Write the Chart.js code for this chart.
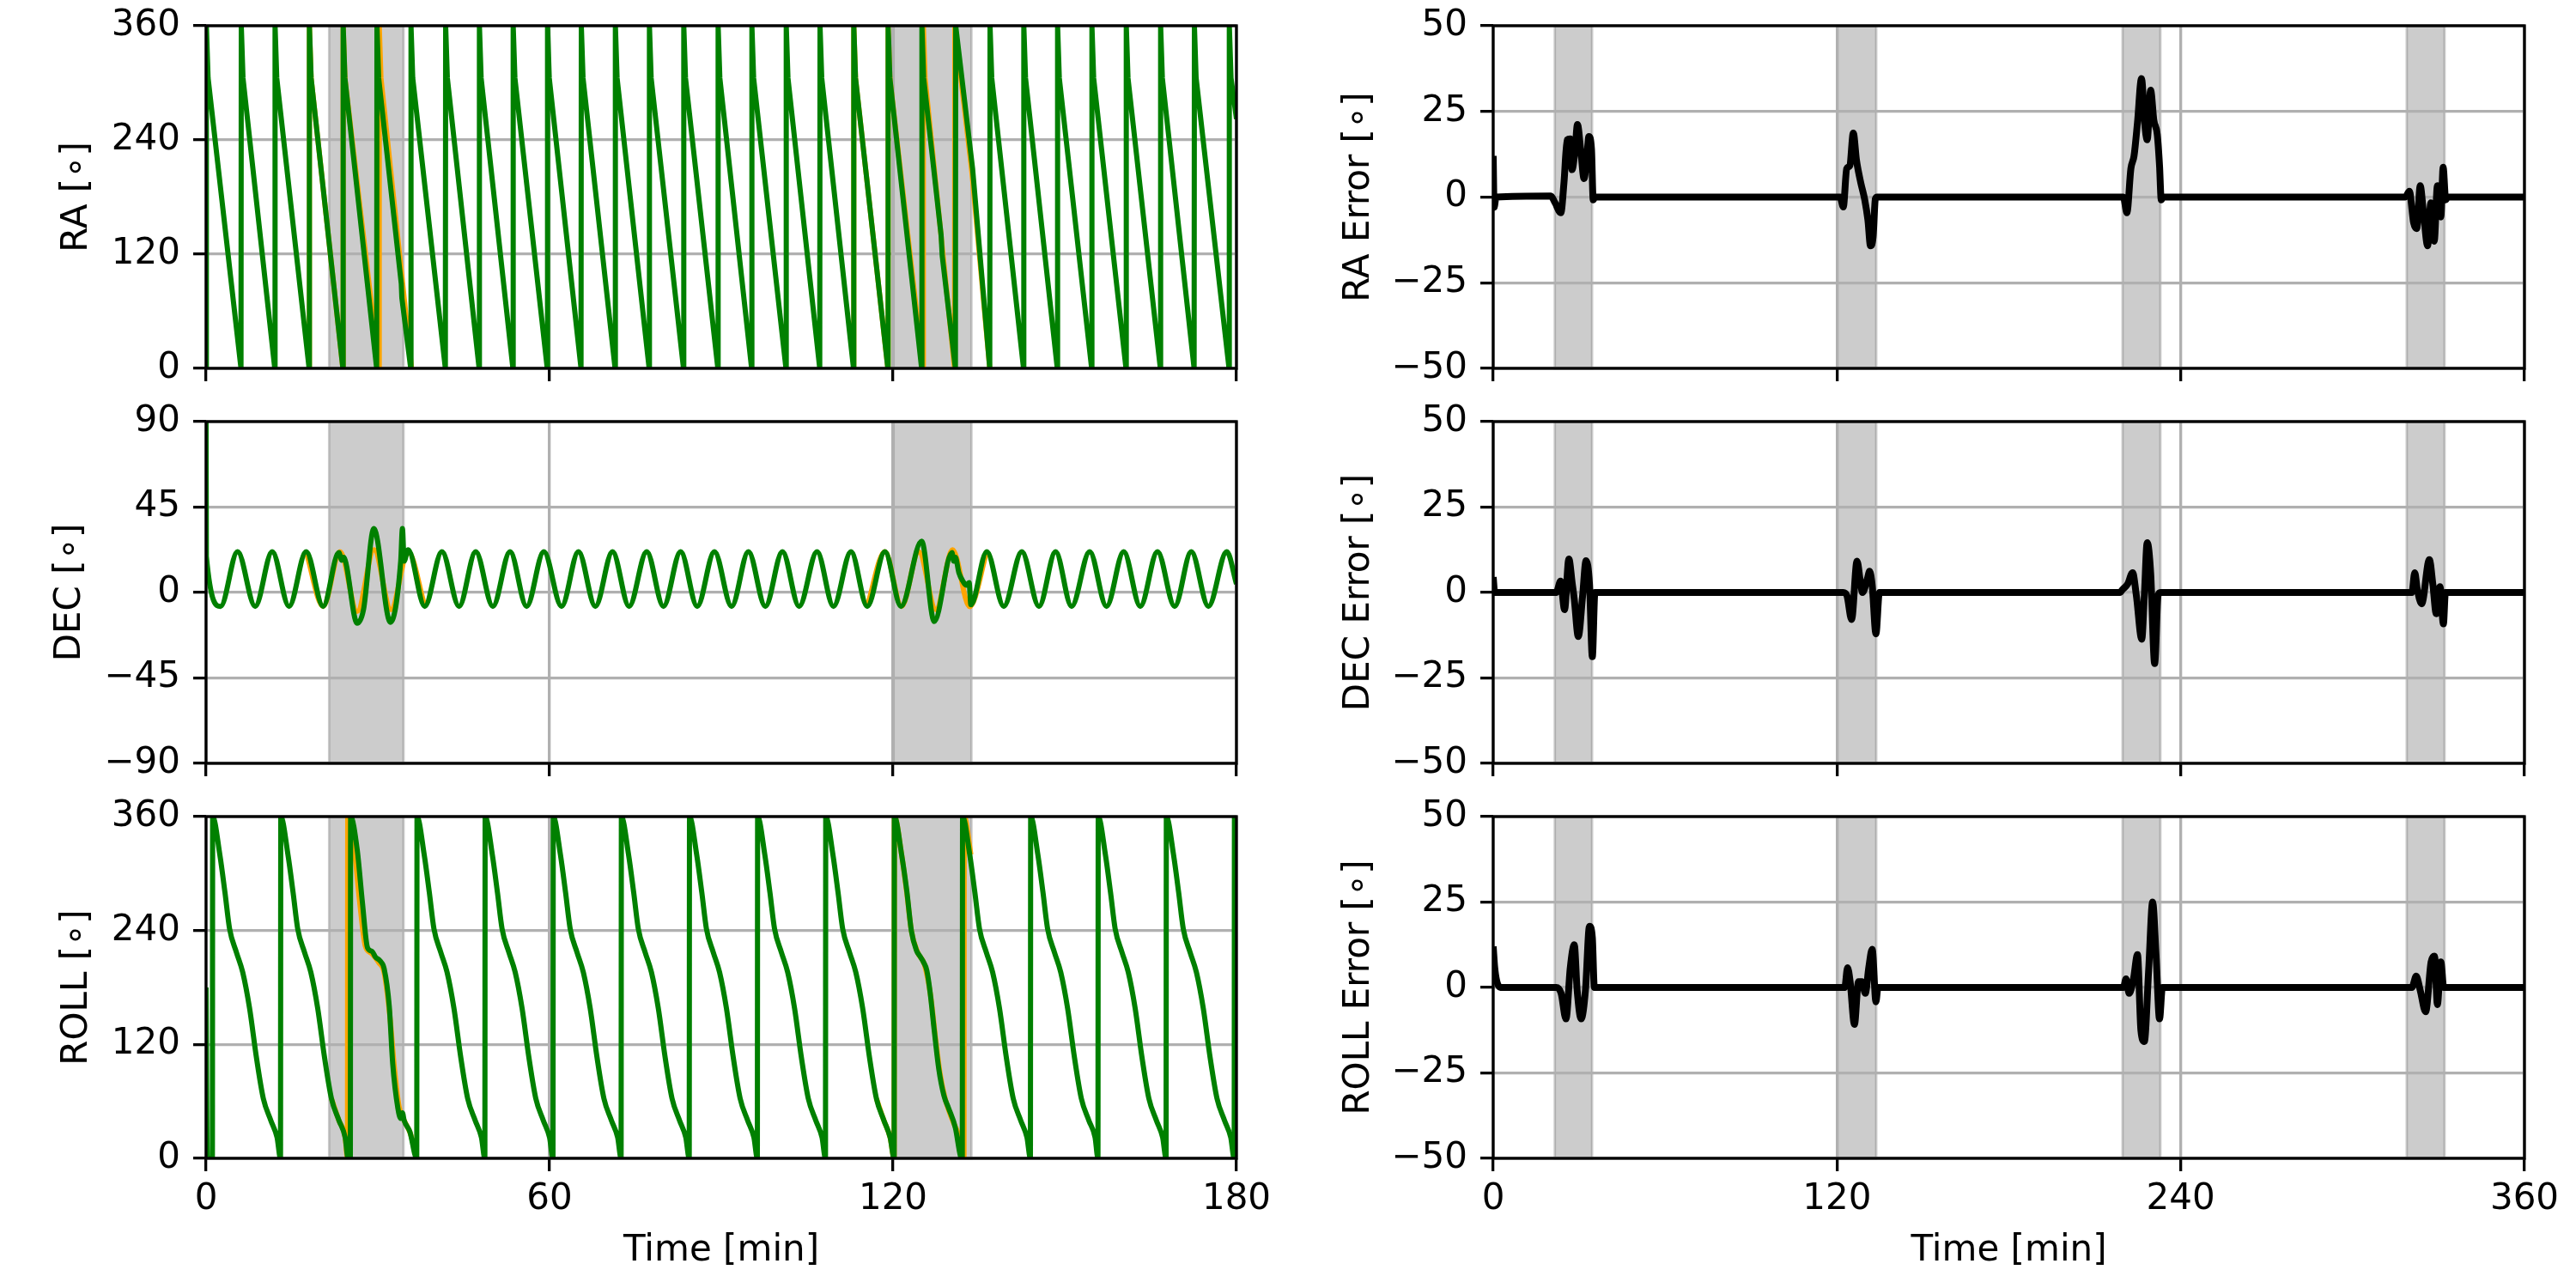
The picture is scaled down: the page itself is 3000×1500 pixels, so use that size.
<!DOCTYPE html>
<html>
<head>
<meta charset="utf-8">
<title>Attitude tracking</title>
<script src="https://cdn.jsdelivr.net/npm/chart.js@4.4.1/dist/chart.umd.min.js"></script>
<style>
  html, body { margin: 0; padding: 0; background: #fff; }
  #fig { position: relative; width: 3000px; height: 1500px; background: #fff; overflow: hidden; }
  #fig canvas { position: absolute; }
</style>
</head>
<body>
<div id="fig">
  <canvas id="raChart" width="1500" height="459" style="left:0;top:0"></canvas>
  <canvas id="decChart" width="1500" height="458" style="left:0;top:461px"></canvas>
  <canvas id="rollChart" width="1500" height="579" style="left:0;top:921px"></canvas>
  <canvas id="raErrChart" width="1500" height="459" style="left:1500px;top:0"></canvas>
  <canvas id="decErrChart" width="1500" height="458" style="left:1500px;top:461px"></canvas>
  <canvas id="rollErrChart" width="1500" height="579" style="left:1500px;top:921px"></canvas>
</div>
<script>
// shaded manoeuvre windows [start, end] in minutes
var spans = [[21.5, 34.5], [120.1, 133.7], [219.7, 232.9], [318.9, 332.1]];

var timeTicksLeft = [0, 60, 120, 180];
var timeTicksRight = [0, 120, 240, 360];
var angleTicks = [0, 120, 240, 360];
var decTicks = [-90, -45, 0, 45, 90];
var errTicks = [-50, -25, 0, 25, 50];

var raActual = [
  [0, 0], [0.05, 360], [0.35, 305],
  [6.1, 0], [6.15, 360], [6.45, 305],
  [12.0, 0], [12.05, 360], [12.35, 305],
  [18.0, 0], [18.05, 360], [18.35, 305],
  [23.9, 0], [23.95, 360], [24.25, 305],
  [29.8, 0], [29.85, 360], [30.15, 305], [34.1, 89], [34.2, 74],
  [35.75, 0], [35.8, 360], [36.1, 305],
  [41.8, 0], [41.85, 360], [42.15, 305],
  [47.7, 0], [47.75, 360], [48.05, 305],
  [53.6, 0], [53.65, 360], [53.95, 305],
  [59.6, 0], [59.65, 360], [59.95, 305],
  [65.5, 0], [65.55, 360], [65.85, 305],
  [71.45, 0], [71.5, 360], [71.8, 305],
  [77.4, 0], [77.45, 360], [77.75, 305],
  [83.4, 0], [83.45, 360], [83.75, 305],
  [89.4, 0], [89.45, 360], [89.75, 305],
  [95.3, 0], [95.35, 360], [95.65, 305],
  [101.3, 0], [101.35, 360], [101.65, 305],
  [107.2, 0], [107.25, 360], [107.55, 305],
  [113.1, 0], [113.15, 360], [113.45, 305],
  [119.1, 0], [119.15, 360], [119.45, 305],
  [125.0, 0], [125.05, 360], [125.35, 305], [128.4, 140], [128.6, 118],
  [130.9, 0], [130.95, 360], [133.9, 210],
  [136.9, 0], [136.95, 360], [137.25, 305],
  [142.8, 0], [142.85, 360], [143.15, 305],
  [148.7, 0], [148.75, 360], [149.05, 305],
  [154.7, 0], [154.75, 360], [155.05, 305],
  [160.7, 0], [160.75, 360], [161.05, 305],
  [166.7, 0], [166.75, 360], [167.05, 305],
  [172.6, 0], [172.65, 360], [172.95, 305],
  [178.7, 0], [178.75, 360], [179.05, 305], [180, 262]
];
// orange = reference, only visible where it parts from the green
var raRef1 = [[18.0, 0], [18.05, 360], [18.35, 305], [23.9, 0], [23.95, 360], [24.25, 305], [30.2, 0], [30.25, 360], [30.55, 305], [35.9, 0]];
var raRef2 = [[113.1, 0], [113.15, 360], [113.45, 305], [119.1, 0], [119.15, 360], [119.45, 305], [125.25, 0], [125.3, 360], [125.6, 305], [130.75, 0], [130.8, 360], [133.8, 205], [136.9, 0]];

var decActual = [
  [0, 90], [0.05, 19], [2.53, -7.3], [5.5, 21.5], [8.58, -7.3], [11.55, 21.5], [14.5, -7.3], [17.48, 21.5], [20.45, -7.3],
  [23.2, 21], [23.7, 17], [24.0, 18.5], [26.4, -16.2], [27.5, -9], [29.3, 33.7], [32.2, -15.7], [34.0, 16.5], [34.3, 33.7], [34.6, 16.5], [35.3, 22.5],
  [38.2, -7.3], [41.2, 21.5], [44.2, -7.3], [47.1, 21.5], [50.1, -7.3], [53.1, 21.5], [56.0, -7.3], [59.0, 21.5],
  [62.1, -7.3], [65.05, 21.5], [68.0, -7.3], [71.0, 21.5], [73.9, -7.3], [76.97, 21.5], [79.9, -7.3], [82.9, 21.5],
  [85.8, -7.3], [88.8, 21.5], [91.8, -7.3], [94.74, 21.5], [97.7, -7.3], [100.68, 21.5], [103.6, -7.3], [106.73, 21.5],
  [109.6, -7.3], [112.66, 21.5], [115.5, -7.3], [118.59, 21.5], [121.4, -7.3],
  [125.0, 27], [127.2, -15.3], [130.3, 21], [130.6, 16.5], [130.9, 18.5], [131.5, 10.5], [132.2, 6], [132.8, 3.8], [133.3, 5.2], [133.6, -6.5],
  [136.38, 21.5], [139.35, -7.3], [142.5, 21.5], [145.5, -7.3], [148.4, 21.5], [151.2, -7.3], [154.35, 21.5], [157.3, -7.3],
  [160.3, 21.5], [163.2, -7.3], [166.2, 21.5], [169.2, -7.3], [172.1, 21.5], [175.1, -7.3], [178.3, 21.5], [180, 4.5]
];
var decRef1 = [[17.48, 21.5], [20.45, -7.3], [23.4, 21.5], [26.4, -10], [29.35, 22.5], [32.3, -9], [35.3, 21.5], [38.2, -7.3]];
var decRef2 = [[115.5, -7.3], [118.59, 21.5], [121.5, -7.3], [124.5, 21.5], [127.5, -9], [130.4, 22.5], [133.4, -7.5], [136.38, 21.5]];

var rollActual = [
  [0, 180], [0.2, 0], [1.1, 0],
  [1.15, 360], [2.4, 320], [3.3, 280], [4.1, 242], [5.3, 217], [6.4, 196], [7.6, 158], [8.8, 106], [10.0, 63], [11.3, 40], [12.4, 22],
  [13.0, 0], [13.05, 360], [14.3, 320], [15.2, 280], [16.0, 242], [17.2, 217], [18.3, 196], [19.5, 158], [20.7, 106], [21.9, 63], [23.2, 40], [24.3, 22],
  [24.8, 0], [25.2, 0], [25.25, 360], [26.4, 325], [27.3, 270], [28.2, 222], [29.0, 218], [29.6, 212], [30.4, 208], [31.1, 200], [32.0, 160], [32.6, 100], [33.5, 53], [34.0, 42], [34.3, 48], [34.6, 40], [35.6, 28],
  [36.8, 0], [36.85, 360], [38.1, 320], [39.0, 280], [39.8, 242], [41.0, 217], [42.1, 196], [43.3, 158], [44.5, 106], [45.7, 63], [47.0, 40], [48.1, 22],
  [48.7, 0], [48.75, 360], [50.0, 320], [50.9, 280], [51.7, 242], [52.9, 217], [54.0, 196], [55.2, 158], [56.4, 106], [57.6, 63], [58.9, 40], [60.0, 22],
  [60.6, 0], [60.65, 360], [61.9, 320], [62.8, 280], [63.6, 242], [64.8, 217], [65.9, 196], [67.1, 158], [68.3, 106], [69.5, 63], [70.8, 40], [71.9, 22],
  [72.5, 0], [72.55, 360], [73.8, 320], [74.7, 280], [75.5, 242], [76.7, 217], [77.8, 196], [79.0, 158], [80.2, 106], [81.4, 63], [82.7, 40], [83.8, 22],
  [84.4, 0], [84.45, 360], [85.7, 320], [86.6, 280], [87.4, 242], [88.6, 217], [89.7, 196], [90.9, 158], [92.1, 106], [93.3, 63], [94.6, 40], [95.7, 22],
  [96.3, 0], [96.35, 360], [97.6, 320], [98.5, 280], [99.3, 242], [100.5, 217], [101.6, 196], [102.8, 158], [104.0, 106], [105.2, 63], [106.5, 40], [107.6, 22],
  [108.2, 0], [108.25, 360], [109.5, 320], [110.4, 280], [111.2, 242], [112.4, 217], [113.5, 196], [114.7, 158], [115.9, 106], [117.1, 63], [118.4, 40], [119.5, 22],
  [120.2, 0], [120.25, 360], [121.5, 320], [122.4, 282], [123.2, 240], [124.1, 219], [124.7, 213], [125.3, 207], [125.9, 198], [126.5, 174], [127.2, 135], [128.0, 94], [128.9, 66], [129.7, 53], [130.9, 32], [131.8, 2],
  [132.1, 0], [132.15, 360], [133.4, 320], [134.3, 280], [135.1, 242], [136.3, 217], [137.4, 196], [138.6, 158], [139.8, 106], [141.0, 63], [142.3, 40], [143.4, 22],
  [144.0, 0], [144.05, 360], [145.3, 320], [146.2, 280], [147.0, 242], [148.2, 217], [149.3, 196], [150.5, 158], [151.7, 106], [152.9, 63], [154.2, 40], [155.3, 22],
  [155.8, 0], [155.85, 360], [157.1, 320], [158.0, 280], [158.8, 242], [160.0, 217], [161.1, 196], [162.3, 158], [163.5, 106], [164.7, 63], [166.0, 40], [167.1, 22],
  [167.7, 0], [167.75, 360], [169.0, 320], [169.9, 280], [170.7, 242], [171.9, 217], [173.0, 196], [174.2, 158], [175.4, 106], [176.6, 63], [177.9, 40], [179.0, 22],
  [179.6, 0], [179.65, 360], [180, 348]
];
var rollRef1 = [[21.9, 63], [23.2, 40], [24.3, 22], [24.7, 0], [24.75, 360], [25.9, 325], [26.8, 272], [27.8, 224], [28.9, 216], [30.2, 206], [31.1, 196], [32.1, 150], [32.9, 95], [33.7, 55], [34.6, 40], [35.7, 26], [36.8, 0]];
var rollRef2 = [[117.1, 63], [118.4, 40], [119.5, 22], [120.2, 0], [120.25, 360], [121.5, 320], [122.4, 280], [123.2, 240], [124.3, 217], [125.5, 204], [126.6, 170], [127.4, 128], [128.2, 90], [129.1, 63], [130.4, 40], [131.5, 24], [132.4, 0], [132.45, 360], [133.6, 320]];

// [time, error deg]
var raErr = [
  [0, 12], [0.3, -3], [1.0, 0],
  [20.1, 0.3], [21.6, -1.7], [23.6, -4.6], [24.7, 4.2], [25.8, 16.7], [26.9, 17], [27.5, 8], [28.6, 14], [29.4, 21.2], [30.6, 13.3], [31.7, 5.4], [32.6, 10.8], [33.4, 17.7], [34.3, 14], [34.9, -0.8], [35.5, 0],
  [121.1, 0], [122.2, -2.9], [123.4, 8.3], [124.5, 9.2], [125.7, 18.7], [126.8, 10.8], [128.3, 4.2], [129.7, -0.8], [130.8, -6.7], [131.7, -14.2], [132.6, -11.7], [133.4, -0.5], [134.0, 0],
  [220.0, 0], [221.2, -4.6], [222.6, 8.3], [223.7, 12], [224.9, 21.7], [226.3, 34.6], [227.5, 20.8], [228.3, 16.7], [229.5, 31.2], [230.6, 22.5], [231.8, 18.3], [232.6, 9.2], [233.2, -0.8], [233.8, 0],
  [318.4, 0], [319.8, 1.7], [321.3, -7.5], [322.4, -9.2], [323.6, 3.3], [324.7, -4.2], [326.2, -14.2], [327.3, -1.7], [328.5, -12.9], [329.6, 3.3], [330.8, -5.8], [331.6, 8.7], [332.5, -0.8], [333.2, 0],
  [360, 0]
];
var decErr = [
  [0, 4.5], [0.5, 0],
  [22.0, 0], [23.5, 3.3], [24.9, -5], [26.4, 9.8], [27.6, 2.5], [28.3, -2], [29.7, -12.9], [31.2, -1], [32.4, 9.3], [33.6, 2.5], [34.6, -18.8], [35.5, 0],
  [122.2, 0], [123.5, -1], [125.1, -7.9], [127.0, 9.2], [128.2, 3], [128.9, 0], [130.6, 4], [131.4, 6.2], [132.3, 2], [133.6, -12.1], [134.8, 0],
  [218.8, 0], [219.6, 0.8], [221.5, 2.5], [223.2, 5.8], [224.5, -0.8], [226.4, -13.7], [227.3, -0.8], [228.3, 14.6], [229.5, 5.8], [230.9, -20.8], [232.1, -0.8], [232.9, 0],
  [320.7, 0], [321.7, 5.8], [322.6, 0.8], [324.1, -3.3], [326.8, 9.6], [328.0, 2.5], [329.2, -6.2], [330.5, 1.7], [331.7, -9.2], [332.4, 0],
  [360, 0]
];
var rollErr = [
  [0, 12], [0.5, 6], [1.2, 2], [2.5, 0],
  [22.0, 0], [23.7, -1.7], [25.4, -9.2], [26.9, 5.8], [28.3, 12.5], [29.3, -0.8], [30.7, -9.2], [32.2, -0.8], [33.6, 17.9], [34.6, 14.6], [35.3, 0],
  [122.7, 0], [123.7, 5.8], [124.6, 1.7], [126.1, -10.8], [127.5, 1.7], [128.7, 1.7], [129.9, -1.7], [131.1, 5.8], [132.3, 11.2], [133.6, -4.2], [134.3, 0],
  [220.0, 0], [220.9, 2.5], [222.0, -1.7], [223.5, 2.5], [224.9, 9.6], [226.1, -12.5], [227.3, -15.8], [228.8, 5], [230.2, 25], [231.4, 9.2], [232.6, -9.2], [233.6, 0],
  [320.7, 0], [322.2, 3.3], [323.6, -0.8], [325.5, -7.1], [327.4, 7.5], [328.6, 9.2], [329.6, -5], [330.8, 7.5], [331.8, 0],
  [360, 0]
];

var GREEN = '#008000';
var ORANGE = '#ffa500';
var tickFont = { family: '"DejaVu Sans", sans-serif', size: 42 };

function fmtTick(v) {
  return String(v).replace('-', '\u2212');
}

function series(points, color, width, smooth) {
  return {
    data: points.map(function (p) { return { x: p[0], y: p[1] }; }),
    borderColor: color,
    borderWidth: width,
    borderJoinStyle: 'round',
    pointRadius: 0,
    fill: false,
    clip: 0,
    tension: 0,
    cubicInterpolationMode: smooth ? 'monotone' : 'default'
  };
}

// grey windows sit under the grid, like axvspan in matplotlib
var spanPlugin = {
  id: 'spans',
  beforeDraw: function (chart) {
    var ctx = chart.ctx, a = chart.chartArea, xs = chart.scales.x;
    ctx.save();
    ctx.fillStyle = 'rgba(128,128,128,0.4)';
    ctx.strokeStyle = 'rgba(128,128,128,0.4)';
    ctx.lineWidth = 2.8;
    spans.forEach(function (s) {
      if (s[0] >= xs.max) return;
      var x0 = xs.getPixelForValue(s[0]);
      var x1 = xs.getPixelForValue(Math.min(s[1], xs.max));
      ctx.fillRect(x0, a.top, x1 - x0, a.bottom - a.top);
      ctx.strokeRect(x0, a.top, x1 - x0, a.bottom - a.top);
    });
    ctx.restore();
  }
};

var framePlugin = {
  id: 'frame',
  afterDatasetsDraw: function (chart) {
    var ctx = chart.ctx, a = chart.chartArea;
    ctx.save();
    ctx.strokeStyle = '#000';
    ctx.lineWidth = 3.3;
    ctx.strokeRect(a.left, a.top, a.right - a.left, a.bottom - a.top);
    ctx.restore();
  }
};

function gridOpts() {
  return { color: '#b0b0b0', lineWidth: 3.3, tickColor: '#000', tickWidth: 3.3, tickLength: 15, drawTicks: true };
}

function panel(id, cfg) {
  return new Chart(document.getElementById(id), {
    type: 'line',
    data: { datasets: cfg.datasets },
    options: {
      responsive: false,
      devicePixelRatio: 1,
      animation: false,
      events: [],
      layout: { autoPadding: false, padding: { top: 30, right: 60, bottom: 0, left: 0 } },
      plugins: { legend: { display: false }, tooltip: { enabled: false } },
      scales: {
        x: {
          type: 'linear',
          min: 0,
          max: cfg.xTicks[cfg.xTicks.length - 1],
          afterBuildTicks: function (s) { s.ticks = cfg.xTicks.map(function (v) { return { value: v }; }); },
          afterFit: function (s) {
            s.height = cfg.bottom ? 151 : 30;
            s.paddingLeft = 0; s.paddingRight = 0;
          },
          grid: gridOpts(),
          border: { display: false },
          ticks: { display: cfg.bottom, color: '#000', font: tickFont, padding: 8, maxRotation: 0, autoSkip: false, callback: fmtTick },
          title: { display: cfg.bottom, text: 'Time [min]', color: '#000', font: tickFont, padding: { top: 0, bottom: 18 } }
        },
        y: {
          type: 'linear',
          min: cfg.yTicks[0],
          max: cfg.yTicks[cfg.yTicks.length - 1],
          afterBuildTicks: function (s) { s.ticks = cfg.yTicks.map(function (v) { return { value: v }; }); },
          afterFit: function (s) {
            s.width = cfg.yWidth;
            s.paddingTop = 0; s.paddingBottom = 0;
          },
          grid: gridOpts(),
          border: { display: false },
          ticks: { color: '#000', font: tickFont, padding: 15, autoSkip: false, callback: fmtTick },
          title: { display: true, text: cfg.yLabel, color: '#000', font: tickFont, padding: { top: cfg.labelPad, bottom: 0 } }
        }
      }
    },
    plugins: [spanPlugin, framePlugin]
  });
}

panel('raChart', {
  datasets: [series(raActual, GREEN, 6, false), series(raRef1, ORANGE, 6, false), series(raRef2, ORANGE, 6, false)],
  xTicks: timeTicksLeft, yTicks: angleTicks, yLabel: 'RA [\u2218]', labelPad: 65, yWidth: 240, bottom: false
});
panel('decChart', {
  datasets: [series(decActual, GREEN, 6, true), series(decRef1, ORANGE, 6, true), series(decRef2, ORANGE, 6, true)],
  xTicks: timeTicksLeft, yTicks: decTicks, yLabel: 'DEC [\u2218]', labelPad: 57, yWidth: 240, bottom: false
});
panel('rollChart', {
  datasets: [series(rollActual, GREEN, 6, true), series(rollRef1, ORANGE, 6, true), series(rollRef2, ORANGE, 6, true)],
  xTicks: timeTicksLeft, yTicks: angleTicks, yLabel: 'ROLL [\u2218]', labelPad: 65, yWidth: 240, bottom: true
});
panel('raErrChart', {
  datasets: [series(raErr, '#000', 8, true)],
  xTicks: timeTicksRight, yTicks: errTicks, yLabel: 'RA Error [\u2218]', labelPad: 58, yWidth: 239, bottom: false
});
panel('decErrChart', {
  datasets: [series(decErr, '#000', 8, true)],
  xTicks: timeTicksRight, yTicks: errTicks, yLabel: 'DEC Error [\u2218]', labelPad: 58, yWidth: 239, bottom: false
});
panel('rollErrChart', {
  datasets: [series(rollErr, '#000', 8, true)],
  xTicks: timeTicksRight, yTicks: errTicks, yLabel: 'ROLL Error [\u2218]', labelPad: 58, yWidth: 239, bottom: true
});
</script>
</body>
</html>
